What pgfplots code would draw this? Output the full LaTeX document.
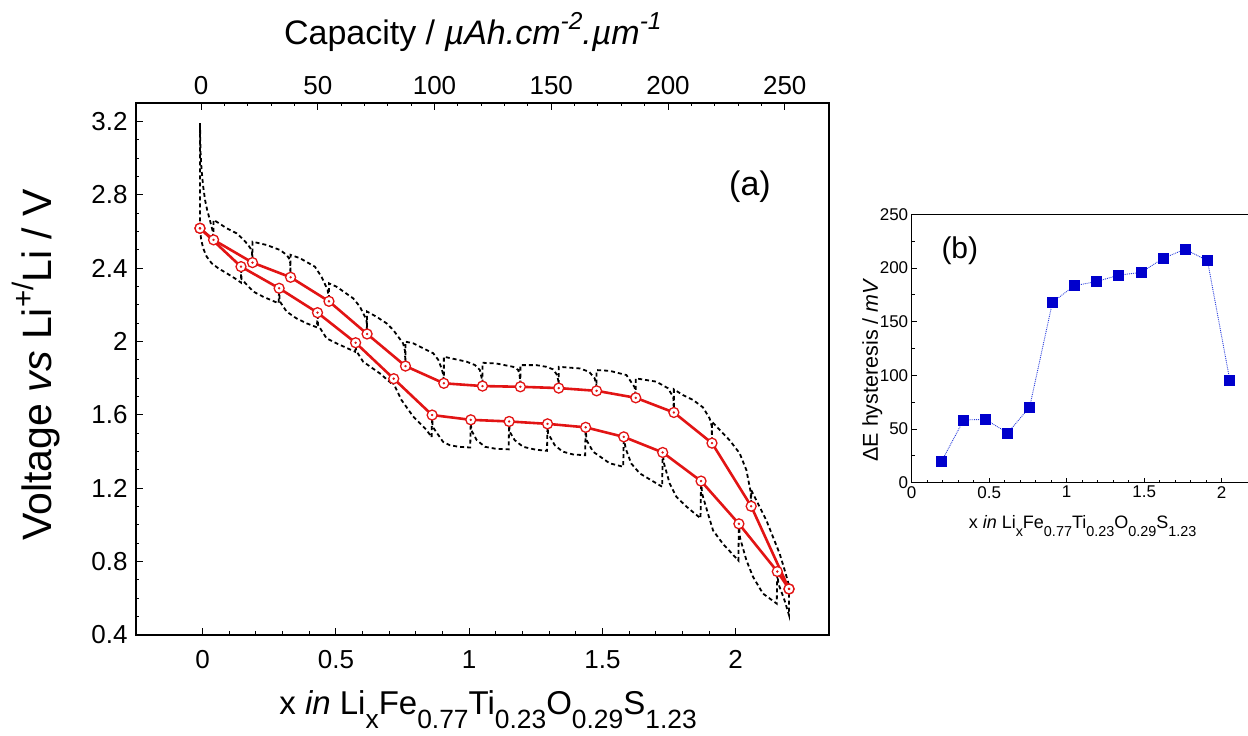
\documentclass[border=0pt]{standalone}
\usepackage{fontspec}
\setmainfont{Liberation Sans}
\usepackage{graphicx}
\usepackage{pgfplots}
\pgfplotsset{compat=1.18}
\definecolor{myred}{RGB}{226,20,20}
\definecolor{myblue}{RGB}{0,0,204}
\definecolor{lineblue}{RGB}{40,60,220}
\newcommand{\fs}[1]{\fontsize{#1}{#1}\selectfont}
\newcommand{\sub}[1]{\raisebox{-0.42em}{\scalebox{0.8}{#1}}}
\newcommand{\sups}[1]{\raisebox{0.45em}{\scalebox{0.72}{#1}}}
\pgfplotstableread{
x y
-0.010 2.617
-0.006 2.56
0.002 2.508
0.015 2.463
0.034 2.426
0.059 2.399
0.090 2.372
0.121 2.344
0.144 2.321
0.144 2.408
0.146 2.340
0.190 2.272
0.227 2.244
0.285 2.208
0.287 2.290
0.289 2.22
0.315 2.163
0.352 2.126
0.390 2.099
0.429 2.077
0.431 2.157
0.433 2.09
0.465 2.017
0.502 1.990
0.572 1.944
0.574 1.993
0.576 1.95
0.602 1.890
0.665 1.826
0.715 1.763
0.717 1.797
0.720 1.76
0.746 1.681
0.790 1.591
0.840 1.518
0.859 1.478
0.861 1.599
0.863 1.535
0.902 1.453
0.927 1.435
0.960 1.426
1.004 1.422
1.006 1.573
1.008 1.517
1.028 1.463
1.059 1.426
1.100 1.415
1.148 1.412
1.150 1.564
1.152 1.508
1.171 1.462
1.202 1.426
1.250 1.410
1.292 1.404
1.294 1.551
1.296 1.499
1.321 1.435
1.350 1.400
1.390 1.384
1.435 1.380
1.437 1.532
1.440 1.463
1.465 1.399
1.527 1.336
1.578 1.317
1.580 1.480
1.587 1.417
1.608 1.335
1.640 1.281
1.724 1.208
1.726 1.395
1.730 1.34
1.752 1.227
1.777 1.154
1.815 1.100
1.868 1.036
1.870 1.239
1.874 1.17
1.896 1.061
1.915 0.970
1.952 0.897
2.010 0.806
2.012 1.006
2.016 0.93
2.040 0.808
2.065 0.717
2.102 0.626
2.154 0.571
2.156 0.746
2.160 0.68
2.183 0.590
2.200 0.508
2.200 0.651
}\dischargecurve
\pgfplotstableread{
x y
-0.010 2.617
-0.010 3.19
-0.008 3.035
-0.004 2.935
0.002 2.845
0.009 2.772
0.017 2.717
0.027 2.663
0.038 2.60
0.041 2.554
0.041 2.663
0.065 2.641
0.090 2.617
0.127 2.590
0.152 2.557
0.171 2.526
0.185 2.495
0.187 2.430
0.187 2.544
0.240 2.526
0.290 2.499
0.315 2.472
0.328 2.444
0.330 2.350
0.330 2.472
0.365 2.454
0.421 2.408
0.446 2.353
0.469 2.281
0.474 2.219
0.474 2.317
0.502 2.299
0.565 2.235
0.590 2.190
0.615 2.117
0.617 2.041
0.617 2.163
0.652 2.135
0.690 2.099
0.715 2.063
0.752 1.990
0.759 1.95
0.761 1.866
0.761 1.999
0.790 1.990
0.827 1.963
0.865 1.936
0.884 1.900
0.896 1.855
0.903 1.818
0.905 1.772
0.905 1.917
0.952 1.902
0.990 1.890
1.021 1.872
1.040 1.845
1.047 1.800
1.050 1.757
1.050 1.884
1.102 1.880
1.165 1.862
1.184 1.845
1.190 1.808
1.192 1.753
1.192 1.871
1.252 1.871
1.290 1.862
1.315 1.848
1.330 1.817
1.335 1.781
1.336 1.746
1.336 1.862
1.415 1.853
1.450 1.835
1.471 1.799
1.477 1.763
1.478 1.731
1.478 1.844
1.527 1.840
1.590 1.817
1.621 1.750
1.625 1.693
1.625 1.799
1.702 1.781
1.746 1.745
1.766 1.696
1.768 1.613
1.768 1.739
1.802 1.708
1.840 1.681
1.877 1.641
1.902 1.581
1.910 1.539
1.911 1.446
1.911 1.562
1.977 1.462
2.015 1.390
2.040 1.299
2.056 1.181
2.058 1.102
2.058 1.19
2.090 1.098
2.115 1.025
2.140 0.934
2.165 0.843
2.184 0.752
2.198 0.680
2.200 0.651
}\chargecurve
\pgfplotstableread{
x y
-0.010 2.617
0.041 2.554
0.187 2.430
0.330 2.350
0.474 2.219
0.617 2.041
0.761 1.866
0.905 1.772
1.050 1.757
1.192 1.753
1.336 1.746
1.478 1.731
1.625 1.693
1.768 1.613
1.911 1.446
2.058 1.102
2.200 0.651
}\chargeeq
\pgfplotstableread{
x y
-0.010 2.617
0.144 2.408
0.287 2.290
0.431 2.157
0.574 1.993
0.717 1.797
0.861 1.599
1.006 1.573
1.150 1.564
1.294 1.551
1.437 1.532
1.580 1.480
1.726 1.395
1.870 1.239
2.012 1.006
2.156 0.746
2.200 0.651
}\dischargeeq
\pgfplotstableread{
x y
0.194 20.2
0.335 58.4
0.475 59.0
0.619 46.3
0.761 70.5
0.908 168.0
1.049 183.5
1.191 187.3
1.333 193.2
1.482 196.0
1.622 209.0
1.763 217.4
1.908 207.0
2.052 95.7
}\hyst
\begin{document}
\begin{tikzpicture}
\useasboundingbox (0,0) rectangle (1248pt,736pt);
% ---------------- panel (a)
\begin{axis}[
  at={(136pt,101pt)}, anchor=south west,
  scale only axis, width=693pt, height=532pt,
  xmin=-0.25, xmax=2.35, ymin=0.4, ymax=3.3,
  axis line style={line width=2.5pt},
  tick pos=left, tick align=inside,
  xtick={0,0.5,1,1.5,2}, minor x tick num=4,
  ytick={0.4,0.8,1.2,1.6,2,2.4,2.8,3.2}, minor y tick num=3,
  major tick length=7pt, minor tick length=3.5pt,
  every tick/.style={black, line width=1pt},
  /pgf/number format/assume math mode=true,
  ticklabel style={font=\fs{26}},
  xticklabel style={yshift=-12pt},
  yticklabel style={xshift=-5pt},
  xlabel={x \textit{in} Li\sub{x}Fe\sub{0.77}Ti\sub{0.23}O\sub{0.29}S\sub{1.23}},
  xlabel style={font=\fs{33}, at={(axis description cs:0.508,-0.150)}, anchor=base},
  ylabel={Voltage \textit{vs} Li\sups{+/}Li / V},
  ylabel style={font=\fs{41}, at={(axis description cs:-0.144,0.508)}, anchor=center},
  clip=false,
]
\addplot[black, line width=1.8pt, dash pattern=on 4pt off 3pt] table {\dischargecurve};
\addplot[black, line width=1.8pt, dash pattern=on 4pt off 3pt] table {\chargecurve};
\addplot[myred, line width=2.6pt, mark=*, mark size=5pt, mark options={fill=white, draw=myred, line width=1.3pt}] table {\chargeeq};
\addplot[myred, line width=2.6pt, mark=*, mark size=5pt, mark options={fill=white, draw=myred, line width=1.3pt}] table {\dischargeeq};
\addplot[only marks, mark=*, mark size=1pt, myred] table {\chargeeq};
\addplot[only marks, mark=*, mark size=1pt, myred] table {\dischargeeq};
\node[font=\fs{34}] at (axis description cs:0.886,0.842) {(a)};
\end{axis}
\begin{axis}[
  at={(136pt,101pt)}, anchor=south west,
  scale only axis, width=693pt, height=532pt,
  xmin=-27.84, xmax=268.95, ymin=0, ymax=1,
  axis x line*=top, axis y line=none,
  axis line style={line width=2.5pt},
  tick align=inside,
  xtick={0,50,100,150,200,250}, minor x tick num=4,
  major tick length=7pt, minor tick length=3.5pt,
  every tick/.style={black, line width=1pt},
  /pgf/number format/assume math mode=true,
  ticklabel style={font=\fs{26}},
  xticklabel style={yshift=5pt},
  xlabel={Capacity / \textit{µAh.cm\sups{-2}.µm\sups{-1}}},
  xlabel style={font=\fs{34}, at={(axis description cs:0.486,1.133)}, anchor=center},
]
\addplot[draw=none] coordinates {(0,0)};
\end{axis}
% ---------------- panel (b)
\begin{axis}[
  at={(911.7pt,253.3pt)}, anchor=south west,
  scale only axis, width=348.75pt, height=268.4pt,
  xmin=0, xmax=2.25, ymin=0, ymax=250,
  axis line style={line width=1.5pt},
  tick pos=left, tick align=inside,
  xtick={0,0.5,1,1.5,2}, minor x tick num=4,
  ytick={0,50,100,150,200,250}, minor y tick num=1,
  major tick length=5pt, minor tick length=3pt,
  every tick/.style={black, line width=0.8pt},
  /pgf/number format/assume math mode=true,
  ticklabel style={font=\fs{17}},
  xlabel={x \textit{in} Li\sub{x}Fe\sub{0.77}Ti\sub{0.23}O\sub{0.29}S\sub{1.23}},
  xlabel style={font=\fs{18}, at={(axis description cs:0.49,-0.172)}, anchor=base},
  ylabel={ΔE hysteresis / \textit{mV}},
  ylabel style={font=\fs{21.5}, at={(axis description cs:-0.113,0.42)}, anchor=center},
  clip=false,
]
\addplot[lineblue, line width=0.9pt, densely dotted, mark=square*, mark size=5pt, mark options={solid, fill=myblue, draw=myblue}] table {\hyst};
\node[font=\fs{30}] at (axis description cs:0.138,0.866) {(b)};
\end{axis}
\end{tikzpicture}
\end{document}
